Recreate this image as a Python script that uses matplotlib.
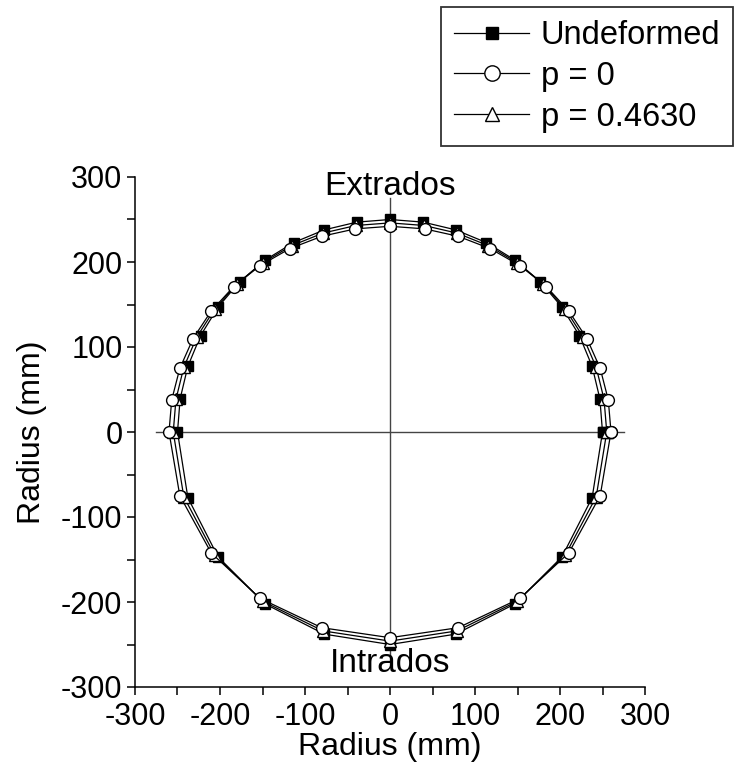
import numpy as np
import matplotlib.pyplot as plt
from matplotlib.ticker import MultipleLocator

plt.rcParams['font.family'] = ['Liberation Sans', 'DejaVu Sans']
plt.rcParams['axes.unicode_minus'] = False

# undeformed ring (mm)
x_und = [250, 246.9, 237.8, 222.8, 202.3, 176.8, 146.9, 113.5, 77.3, 39.1, 0,
         -39.1, -77.3, -113.5, -146.9, -176.8, -202.3, -222.8, -237.8, -246.9, -250,
         -237.8, -202.3, -146.9, -77.3, 0, 77.3, 146.9, 202.3, 237.8, 250]
y_und = [0, 39.1, 77.3, 113.5, 146.9, 176.8, 202.3, 222.8, 237.8, 246.9, 250,
         246.9, 237.8, 222.8, 202.3, 176.8, 146.9, 113.5, 77.3, 39.1, 0,
         -77.3, -146.9, -202.3, -237.8, -250, -237.8, -202.3, -146.9, -77.3, 0]

# p = 0
x_p0 = [260, 256.8, 247.3, 231.7, 210.4, 183.9, 152.8, 118.0, 80.4, 40.7, 0,
        -40.7, -80.4, -118.0, -152.8, -183.9, -210.4, -231.7, -247.3, -256.8, -260,
        -247.3, -210.4, -152.8, -80.4, 0, 80.4, 152.8, 210.4, 247.3, 260]
y_p0 = [0, 37.8, 74.8, 109.9, 142.2, 171.1, 195.8, 215.7, 230.2, 239.0, 242,
        239.0, 230.2, 215.7, 195.8, 171.1, 142.2, 109.9, 74.8, 37.8, 0,
        -74.8, -142.2, -195.8, -230.2, -242, -230.2, -195.8, -142.2, -74.8, 0]

# p = 0.4630
x_p1 = [255, 251.8, 242.6, 227.3, 206.3, 180.3, 149.8, 115.8, 78.8, 39.9, 0,
        -39.9, -78.8, -115.8, -149.8, -180.3, -206.3, -227.3, -242.6, -251.8, -255,
        -242.6, -206.3, -149.8, -78.8, 0, 78.8, 149.8, 206.3, 242.6, 255]
y_p1 = [0, 38.5, 76.1, 111.7, 144.6, 174.0, 199.1, 219.2, 234.0, 243.0, 246,
        243.0, 234.0, 219.2, 199.1, 174.0, 144.6, 111.7, 76.1, 38.5, 0,
        -76.1, -144.6, -199.1, -234.0, -246, -234.0, -199.1, -144.6, -76.1, 0]

fig = plt.figure(figsize=(7.34, 7.74), dpi=100)
ax = fig.add_axes([135 / 734, 87 / 774, 510 / 734, 510 / 774])

# reference cross
ax.plot([-275, 275], [0, 0], color='#444444', lw=1.0, zorder=1)
ax.plot([0, 0], [-275, 275], color='#444444', lw=1.0, zorder=1)

l1, = ax.plot(x_und, y_und, '-s', color='black', lw=0.9, ms=6.5,
              mfc='black', mec='black', label='Undeformed', zorder=3)
l2, = ax.plot(x_p0, y_p0, '-o', color='black', lw=0.9, ms=8.5,
              mfc='white', mec='black', mew=1.0, label='p = 0', zorder=5)
l3, = ax.plot(x_p1, y_p1, '-^', color='black', lw=0.9, ms=8,
              mfc='white', mec='black', mew=1.0, label='p = 0.4630', zorder=4)

ax.text(0, 289, 'Extrados', ha='center', va='center', fontsize=24)
ax.text(0, -272, 'Intrados', ha='center', va='center', fontsize=24)

ax.set_xlim(-300, 300)
ax.set_ylim(-300, 300)
ax.xaxis.set_major_locator(MultipleLocator(100))
ax.yaxis.set_major_locator(MultipleLocator(100))
ax.xaxis.set_minor_locator(MultipleLocator(50))
ax.yaxis.set_minor_locator(MultipleLocator(50))
ax.tick_params(which='both', direction='out', length=6, width=1.1,
               labelsize=22, pad=3)
ax.tick_params(axis='x', which='both', pad=5)
ax.spines['top'].set_visible(False)
ax.spines['right'].set_visible(False)
ax.spines['left'].set_linewidth(1.1)
ax.spines['bottom'].set_linewidth(1.1)
ax.set_xlabel('Radius (mm)', fontsize=23, labelpad=0)
ax.set_ylabel('Radius (mm)', fontsize=23, labelpad=10)

leg = fig.legend([l1, l2, l3], ['Undeformed', 'p = 0', 'p = 0.4630'],
                 loc='upper right', bbox_to_anchor=(0.999, 0.991),
                 fontsize=23.5, frameon=True, fancybox=False, edgecolor='black',
                 handlelength=2.3, handletextpad=0.35, labelspacing=0.3,
                 borderpad=0.4, borderaxespad=0, markerscale=1.3)
leg.get_frame().set_linewidth(1.3)

fig.savefig('out.png', dpi=100)
